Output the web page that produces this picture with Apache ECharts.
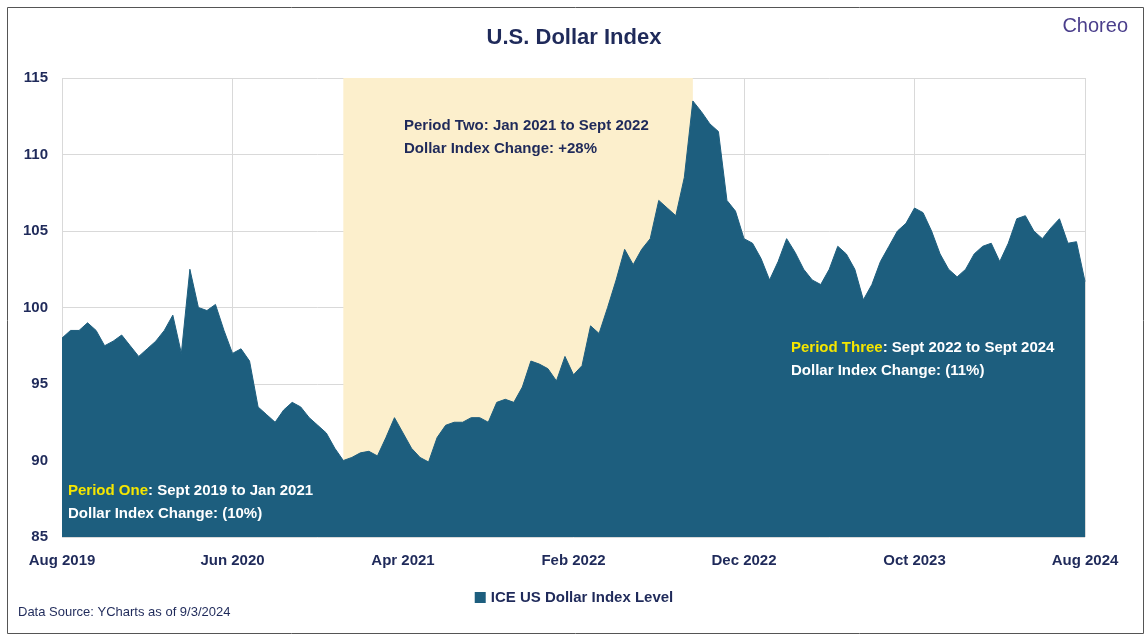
<!DOCTYPE html>
<html><head><meta charset="utf-8">
<script src="https://cdn.jsdelivr.net/npm/echarts@6/dist/echarts.min.js"></script>
<style>html,body{margin:0;background:#fff}#c{width:1148px;height:638px}</style>
</head><body><div id="c"></div>
<script>
// semi-monthly observations, Aug 2019 .. Aug 2024
var dates = [];
for (var y = 2019; y <= 2024; y++) {
	for (var m = 1; m <= 12; m++) {
		if (y === 2019 && m < 8) continue;
		if (y === 2024 && m > 8) continue;
		var mm = (m < 10 ? '0' : '') + m;
		dates.push(y + '-' + mm + '-01');
		if (!(y === 2024 && m === 8)) dates.push(y + '-' + mm + '-16');
	}
}
var dxy = [
	98.0, 98.5, 98.5, 99.0, 98.5, 97.5, 97.8, 98.2, 97.5, 96.8,
	97.3, 97.8, 98.5, 99.5, 97.0, 102.5, 100.0, 99.8, 100.2, 98.5, 97.0, 97.3,
	96.5, 93.5, 93.0, 92.5, 93.3, 93.8, 93.5, 92.8, 92.3, 91.8, 90.8, 90.0,
	90.2, 90.5, 90.6, 90.3, 91.5, 92.8, 91.8, 90.8, 90.2, 89.9, 91.5, 92.3,
	92.5, 92.5, 92.8, 92.8, 92.5, 93.8, 94.0, 93.8, 94.8, 96.5, 96.3, 96.0,
	95.2, 96.8, 95.6, 96.2, 98.8, 98.3, 100.0, 101.8, 103.8, 102.8, 103.8, 104.5,
	107.0, 106.5, 106.0, 108.5, 113.5, 112.8, 112.0, 111.5, 107.0, 106.3, 104.5, 104.2,
	103.2, 101.8, 103.0, 104.5, 103.6, 102.5, 101.8, 101.5, 102.5, 104.0, 103.5, 102.5,
	100.5, 101.5, 103.0, 104.0, 105.0, 105.5, 106.5, 106.2, 105.0, 103.5, 102.5, 102.0,
	102.5, 103.5, 104.0, 104.2, 103.0, 104.2, 105.8, 106.0, 105.0, 104.5, 105.2, 105.8,
	104.2, 104.3, 101.7
];
var months = ['Jan','Feb','Mar','Apr','May','Jun','Jul','Aug','Sep','Oct','Nov','Dec'];
var shadeFrom = '2020-12-16', shadeTo = '2022-09-01';

var chart = echarts.init(document.getElementById('c'));
var navy = '#1f2a5a', fill = '#1d5e7e';
chart.setOption({
	textStyle: { fontFamily: 'Liberation Sans, Arial, sans-serif' },
	title: { text: 'U.S. Dollar Index', left: 'center', top: 22,
		textStyle: { fontSize: 22, fontWeight: 'bold', color: navy } },
	graphic: [
		{ type: 'rect', left: 5, top: 5, z: 100, shape: { width: 1136, height: 626 },
			style: { fill: 'none', stroke: '#555', lineWidth: 1 } },
		{ type: 'text', right: 20, top: 16, z: 100, style: { text: 'Choreo', fontSize: 20, fill: '#4b3f8c' } },
		{ type: 'text', left: 404, top: 114, z: 100, style: { text: 'Period Two: Jan 2021 to Sept 2022\nDollar Index Change: +28%',
			fontSize: 15, fontWeight: 'bold', fill: navy, lineHeight: 23 } },
		{ type: 'text', left: 68, top: 483, z: 100, style: { rich: {
			y: { fill: '#f5e600', fontSize: 15, fontWeight: 'bold', lineHeight: 23 },
			w: { fill: '#fff', fontSize: 15, fontWeight: 'bold', lineHeight: 23 } },
			text: '{y|Period One}{w|: Sept 2019 to Jan 2021}\n{w|Dollar Index Change: (10%)}' } },
		{ type: 'text', left: 791, top: 340, z: 100, style: { rich: {
			y: { fill: '#f5e600', fontSize: 15, fontWeight: 'bold', lineHeight: 23 },
			w: { fill: '#fff', fontSize: 15, fontWeight: 'bold', lineHeight: 23 } },
			text: '{y|Period Three}{w|: Sept 2022 to Sept 2024}\n{w|Dollar Index Change: (11%)}' } },
		{ type: 'text', left: 18, top: 606, z: 100, style: { text: 'Data Source: YCharts as of 9/3/2024', fontSize: 13, fill: navy } }
	],
	legend: { bottom: 28, left: 'center', icon: 'rect', itemWidth: 11, itemHeight: 11,
		textStyle: { fontSize: 15, fontWeight: 'bold', color: navy } },
	grid: { left: 62, right: 63, top: 78, bottom: 101 },
	xAxis: {
		type: 'category', data: dates, boundaryGap: false,
		axisLine: { show: false }, axisTick: { show: false },
		axisLabel: { interval: function (i) { return i % 20 === 0; }, margin: 16,
			fontSize: 15, fontWeight: 'bold', color: navy,
			formatter: function (v) { return months[+v.slice(5, 7) - 1] + ' ' + v.slice(0, 4); } },
		splitLine: { show: true, interval: function (i) { return i % 20 === 0; }, lineStyle: { color: '#d9d9d9' } }
	},
	yAxis: {
		type: 'value', min: 85, max: 115, interval: 5,
		axisLabel: { fontSize: 15, fontWeight: 'bold', color: navy, margin: 14 },
		splitLine: { lineStyle: { color: '#d9d9d9' } }
	},
	series: [{
		name: 'ICE US Dollar Index Level', type: 'line', data: dxy,
		symbol: 'none', color: fill, lineStyle: { width: 1, color: fill },
		areaStyle: { color: fill, opacity: 1 },
		markArea: { silent: true, itemStyle: { color: '#fcefcc' },
			data: [[{ xAxis: shadeFrom }, { xAxis: shadeTo }]] }
	}]
});
</script></body></html>
